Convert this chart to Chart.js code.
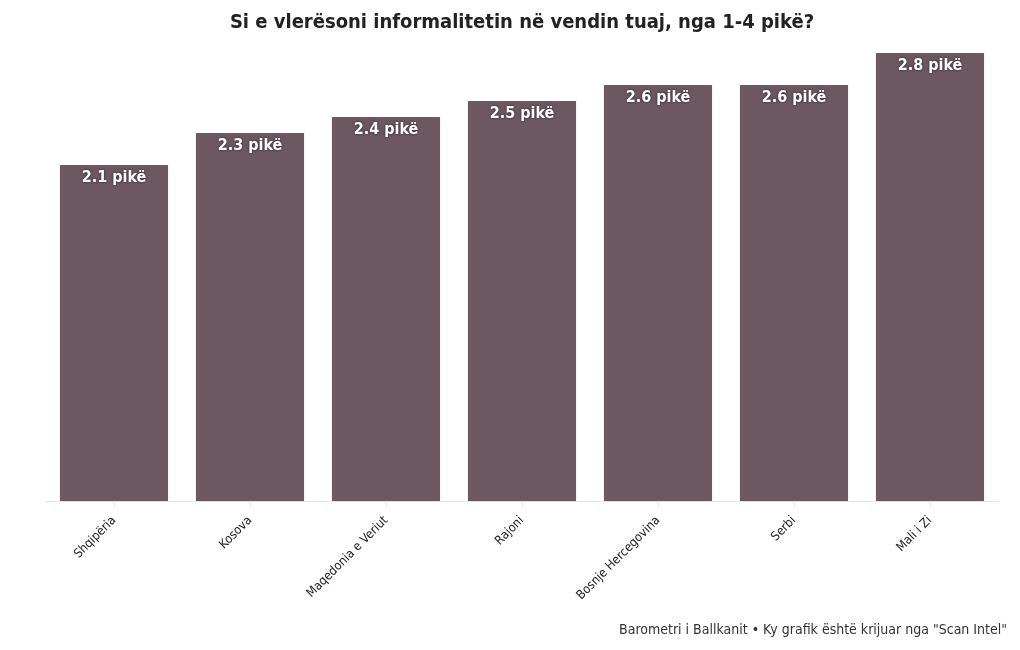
<!DOCTYPE html>
<html>
<head>
<meta charset="utf-8">
<script src="https://cdn.jsdelivr.net/npm/chart.js@4"></script>
<style>
  html, body { margin: 0; padding: 0; background: #fff; }
  #wrap { width: 1020px; height: 650px; }
</style>
</head>
<body>
<div id="wrap"><canvas id="informalityChart" width="1020" height="650"></canvas></div>
<script>
const countries = ['Shqipëria', 'Kosova', 'Maqedonia e Veriut', 'Rajoni', 'Bosnje Hercegovina', 'Serbi', 'Mali i Zi'];
const scores = [2.1, 2.3, 2.4, 2.5, 2.6, 2.6, 2.8];
const sourceNote = 'Barometri i Ballkanit • Ky grafik është krijuar nga "Scan Intel"';

const fontFamily = '"DejaVu Sans Condensed", "Liberation Sans Narrow", Roboto, sans-serif';

// draw "x.x pikë" inside the top of each bar, plus the source line
const barLabels = {
    id: 'barLabels',
    afterDatasetsDraw(chart) {
        const ctx = chart.ctx;
        const meta = chart.getDatasetMeta(0);
        ctx.save();
        ctx.font = 'bold 16px ' + fontFamily;
        ctx.textAlign = 'center';
        ctx.textBaseline = 'middle';
        ctx.shadowColor = 'rgba(0, 0, 0, 0.6)';
        ctx.shadowBlur = 3;
        ctx.fillStyle = '#ffffff';
        meta.data.forEach((bar, i) => {
            ctx.fillText(scores[i].toFixed(1) + ' pikë', bar.x, bar.y + 13);
        });
        ctx.restore();

        ctx.save();
        ctx.font = '14px ' + fontFamily;
        ctx.textAlign = 'right';
        ctx.textBaseline = 'middle';
        ctx.fillStyle = '#333333';
        ctx.fillText(sourceNote, 1007, 630);
        ctx.restore();
    }
};

new Chart(document.getElementById('informalityChart'), {
    type: 'bar',
    data: {
        labels: countries,
        datasets: [{
            data: scores,
            backgroundColor: '#6d5862',
            borderWidth: 0,
            barPercentage: 0.795,
            categoryPercentage: 1
        }]
    },
    options: {
        responsive: false,
        animation: false,
        layout: {
            padding: { left: 46, right: 22, top: 0, bottom: 41 }
        },
        plugins: {
            legend: { display: false },
            tooltip: { enabled: false },
            title: {
                display: true,
                text: 'Si e vlerësoni informalitetin në vendin tuaj, nga 1-4 pikë?',
                color: '#222222',
                font: { family: fontFamily, size: 20, weight: 'bold' },
                padding: { top: 11, bottom: 18 }
            }
        },
        scales: {
            y: {
                display: false,
                min: 0,
                max: 2.8
            },
            x: {
                grid: {
                    display: true,
                    offset: false,
                    drawOnChartArea: false,
                    color: '#e6e6e6',
                    tickLength: 6
                },
                border: { color: '#e6e6e6' },
                ticks: {
                    color: '#222222',
                    font: { family: fontFamily, size: 12.5 },
                    maxRotation: 45,
                    minRotation: 45,
                    padding: 6
                }
            }
        }
    },
    plugins: [barLabels]
});
</script>
</body>
</html>
